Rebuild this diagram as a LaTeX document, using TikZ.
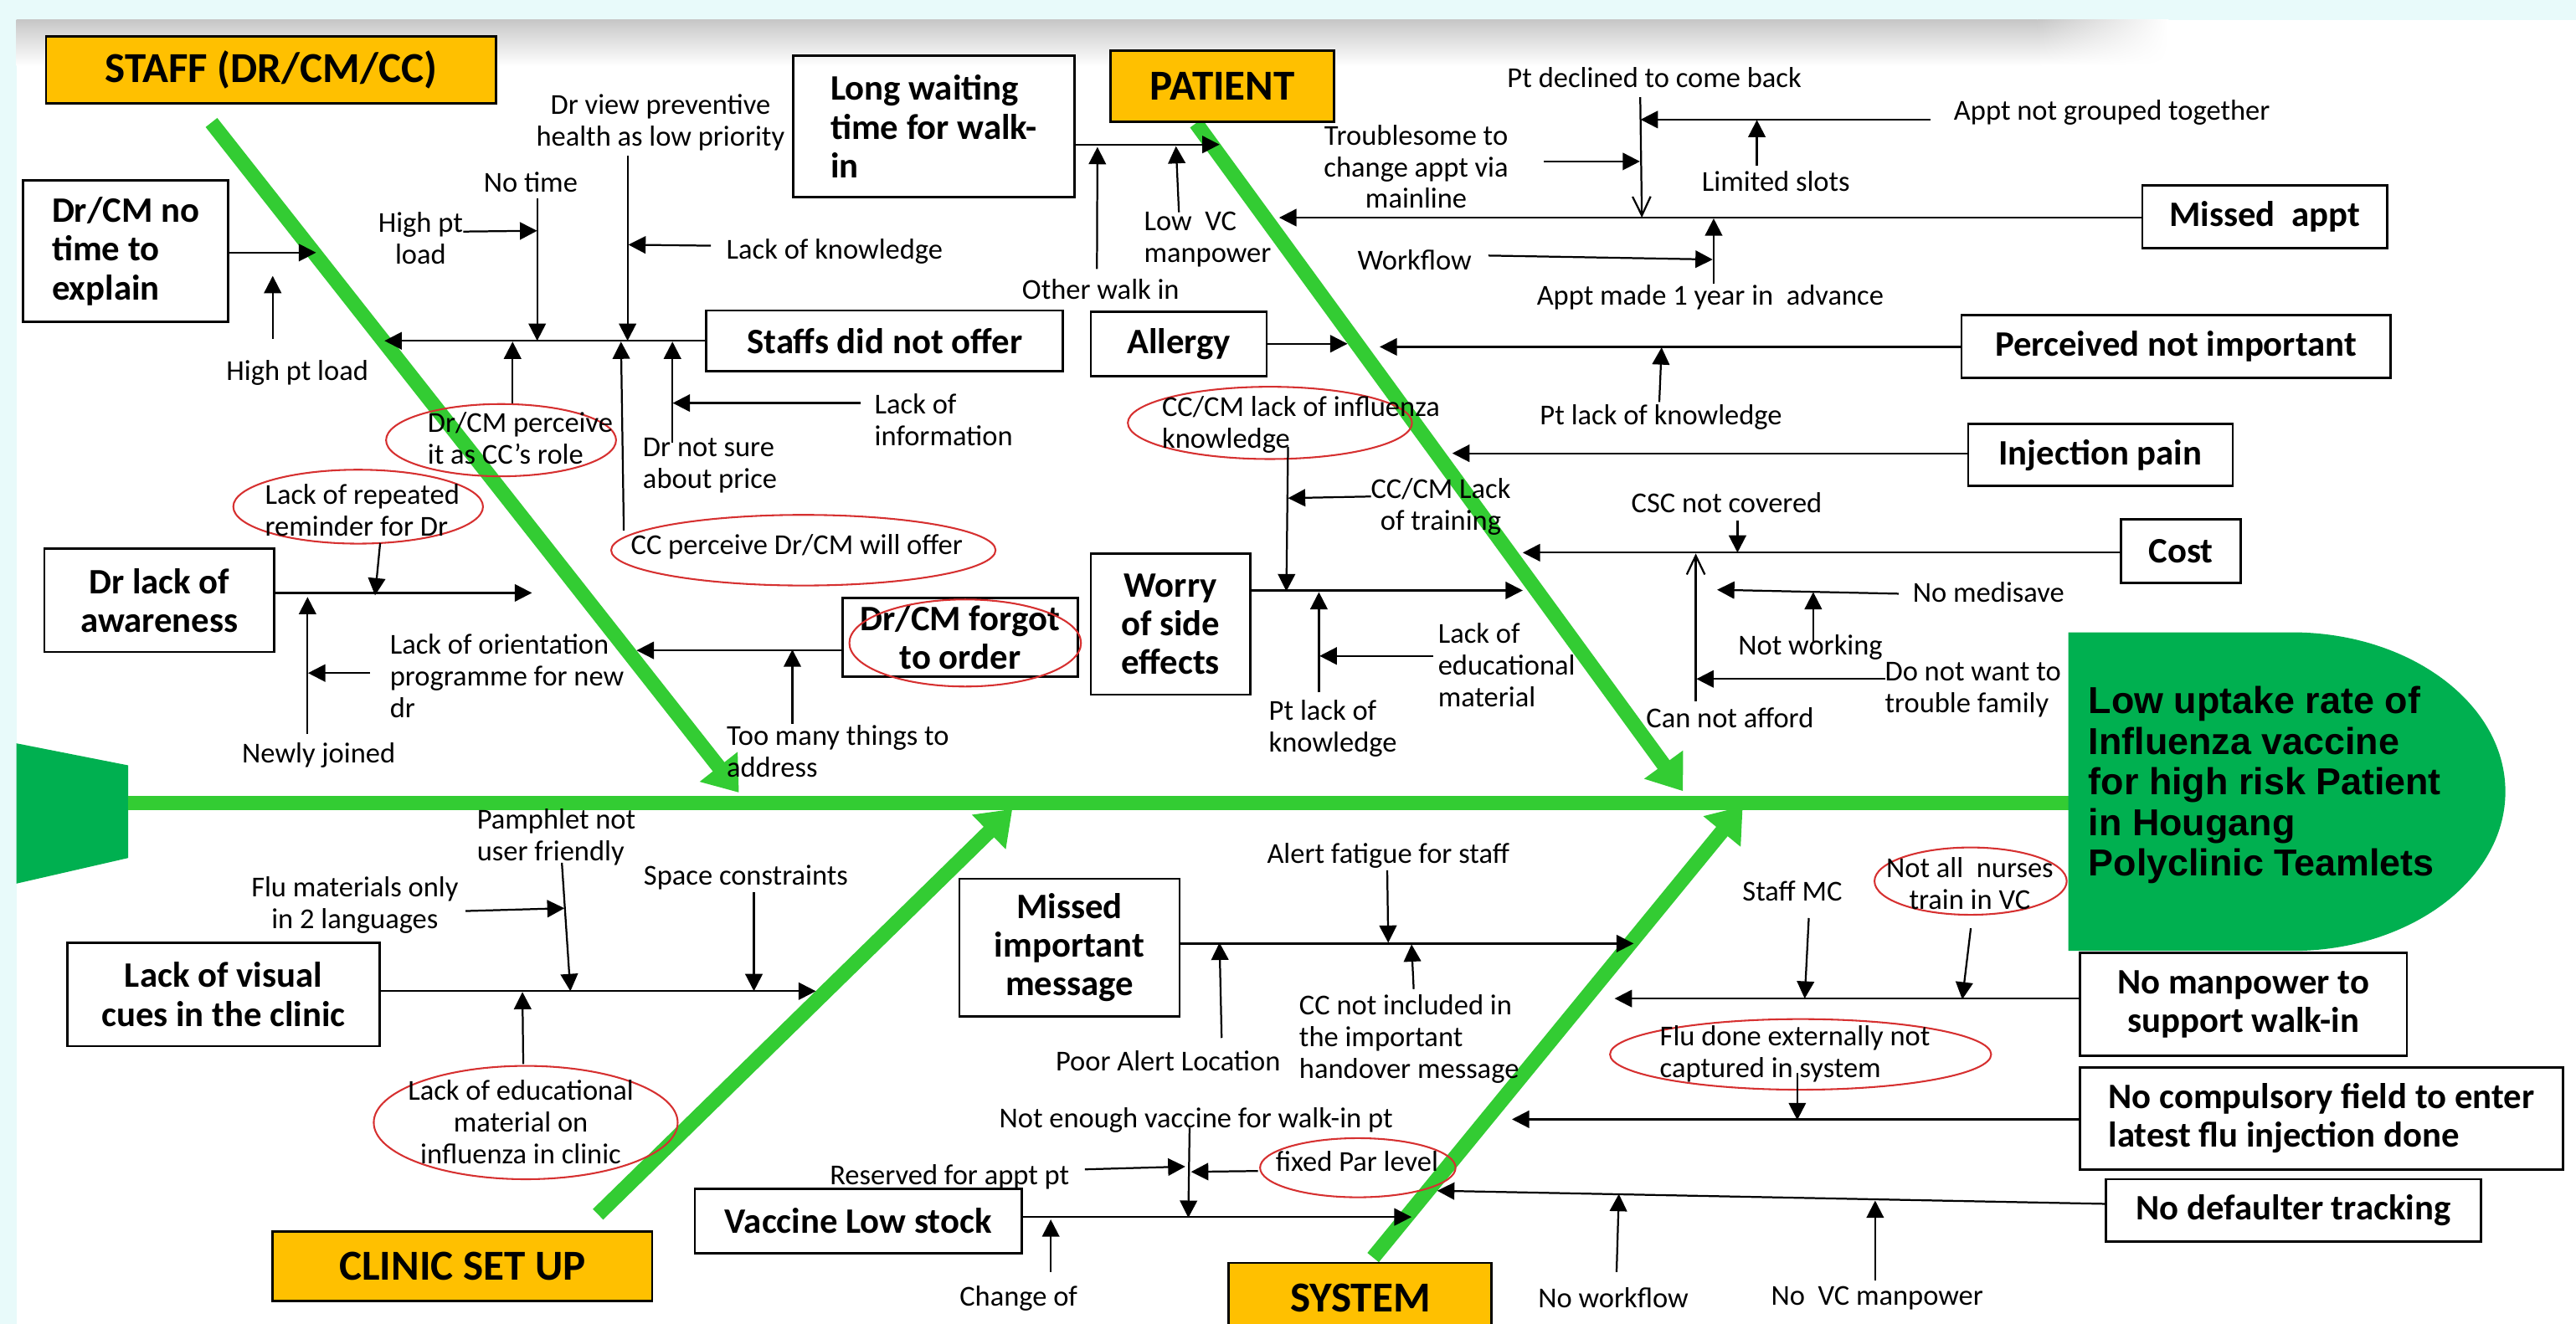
\documentclass[tikz,border=0pt]{standalone}
\usepackage{fontspec}
\setmainfont{Carlito}
\newfontfamily\headfont{Liberation Sans}
\usetikzlibrary{arrows.meta}
\usetikzlibrary{shapes.geometric}
\usetikzlibrary{shadings}
\definecolor{bonegreen}{RGB}{51,204,51}
\definecolor{headgreen}{RGB}{0,176,80}
\definecolor{catorange}{RGB}{255,192,0}
\definecolor{ringred}{RGB}{214,48,48}
\definecolor{edgecyan}{RGB}{232,250,250}
\tikzset{catbox/.style = {draw, fill=catorange, line width=0.8pt, inner sep=0, font=\bfseries\fontsize{14.8}{16}\selectfont}}
\tikzset{causebox/.style = {draw, line width=0.8pt, inner sep=0, align=center, font=\bfseries\fontsize{12.4}{13.4}\selectfont}}
\tikzset{lbl/.style = {inner sep=0, align=center, font=\fontsize{10}{11}\selectfont}}
\tikzset{redring/.style = {ellipse, draw=ringred, line width=0.6pt, inner sep=0}}
\tikzset{arr/.style = {line width=0.65pt, -{Triangle[length=2.1mm, width=2.1mm]}}}
\tikzset{openarr/.style = {line width=0.65pt, -{Straight Barb[length=2.3mm, width=2.2mm]}}}
\tikzset{bone/.style = {draw=bonegreen, line width=1.8mm, -{Triangle[length=4mm, width=5.6mm]}}}

\begin{document}
\begin{tikzpicture}[x=0.2mm, y=-0.2mm]
  \useasboundingbox (0,0) rectangle (1568,806);
  \fill[edgecyan] (0,0) rectangle (1568,12);
  \fill[edgecyan] (0,0) rectangle (10,806);
  \shade[top color=black!22, bottom color=white] (10,12) rectangle (1240,40);
  \shade[upper left=black!22, upper right=white, lower left=white, lower right=white] (1240,12) rectangle (1320,40);

  % spine and head
  \coordinate (tailend) at (78,489);
  \coordinate (headend) at (1262,489);
  \fill[headgreen] (10,452.6) -- (78,466) -- (78,522.4) -- (10,538) -- cycle;
  \draw[bonegreen, line width=1.8mm] (tailend) -- (headend);
  \fill[headgreen] (1259,385) -- (1395,385) arc[start angle=90, end angle=-90, x radius=26mm, y radius=19.4mm] -- (1259,579) -- cycle;
  \node[anchor=west, inner sep=0, align=left, font=\headfont\bfseries\fontsize{13}{14.1}\selectfont] (problem) at (1271,478)
    {Low uptake rate of\\Influenza vaccine\\for high risk Patient\\in Hougang\\Polyclinic Teamlets};

  % bones
  \coordinate (staffroot) at (128.7,74.6);
  \coordinate (staffhit) at (449.8,482.6);
  \coordinate (patroot) at (728,75);
  \coordinate (pathit) at (1024.4,481.7);
  \coordinate (clinroot) at (364,739.4);
  \coordinate (clinhit) at (616.2,492.6);
  \coordinate (sysroot) at (835.8,765.7);
  \coordinate (syshit) at (1060.8,490.8);
  \draw[bone] (staffroot) -- (staffhit);
  \draw[bone] (patroot) -- (pathit);
  \draw[bone] (clinroot) -- (clinhit);
  \draw[bone] (sysroot) -- (syshit);

  % categories
  \node[catbox, minimum width=54.8mm, minimum height=8.2mm] (staff) at (165,42.5) {STAFF (DR/CM/CC)};
  \node[catbox, minimum width=27.2mm, minimum height=8.6mm] (patient) at (744,52.5) {PATIENT};
  \node[catbox, minimum width=46.2mm, minimum height=8.4mm] (clinic) at (281.5,771) {CLINIC SET UP};
  \node[catbox, minimum width=32mm, minimum height=8.6mm] (system) at (828,790.5) {SYSTEM};

  % cause boxes
  \node[causebox, align=left, minimum width=25mm, minimum height=17.2mm] (noexplain) at (76.5,153) {Dr/CM no\\time to\\explain};
  \node[causebox, align=left, minimum width=34.2mm, minimum height=17.2mm] (longwait) at (568.5,77) {Long waiting\\time for walk-\\in};
  \node[causebox, minimum width=43.4mm, minimum height=7.4mm] (staffoffer) at (538.5,207.5) {Staffs did not offer};
  \node[causebox, minimum width=21.4mm, minimum height=7.8mm] (allergy) at (717.5,209.5) {Allergy};
  \node[causebox, minimum width=29.8mm, minimum height=7.6mm] (missappt) at (1378.5,132) {Missed~ appt};
  \node[causebox, minimum width=52.2mm, minimum height=7.6mm] (notimport) at (1324.5,211) {Perceived not important};
  \node[causebox, minimum width=32.2mm, minimum height=7.6mm] (injpain) at (1278.5,277) {Injection pain};
  \node[causebox, minimum width=14.6mm, minimum height=7.8mm] (cost) at (1327.5,335.5) {Cost};
  \node[causebox, minimum width=28mm, minimum height=12.6mm] (awareness) at (97,365.5) {Dr lack of\\awareness};
  \node[causebox, minimum width=28.6mm, minimum height=9.6mm] (forgot) at (584.5,388) {Dr/CM forgot\\to order};
  \node[causebox, minimum width=19.4mm, minimum height=17.2mm] (worry) at (712.5,380) {Worry\\of side\\effects};
  \node[causebox, minimum width=38mm, minimum height=12.6mm] (visual) at (136,605.5) {Lack of visual\\cues in the clinic};
  \node[causebox, minimum width=26.8mm, minimum height=16.8mm] (missmsg) at (651,577) {Missed\\important\\message};
  \node[causebox, minimum width=39.8mm, minimum height=12.6mm] (walkin) at (1365.5,611.5) {No manpower to\\support walk-in};
  \node[causebox, align=left, minimum width=58.8mm, minimum height=12.4mm] (compfield) at (1413,681) {No compulsory field to enter\\latest flu injection done};
  \node[causebox, minimum width=45.6mm, minimum height=7.6mm] (defaulter) at (1396,737) {No defaulter tracking};
  \node[causebox, minimum width=39.8mm, minimum height=7.8mm] (lowstock) at (522.5,743.5) {Vaccine Low stock};

  % red rings
  \node[redring, minimum width=28mm, minimum height=8.8mm] (perceivering) at (305,268) {};
  \node[redring, minimum width=46.8mm, minimum height=8.6mm] (offerring) at (489,335) {};
  \node[redring, minimum width=30.4mm, minimum height=9mm] (reminderring) at (218,308.5) {};
  \node[redring, minimum width=28.2mm, minimum height=10.6mm] (forgotring) at (587.5,391.5) {};
  \node[redring, minimum width=34.6mm, minimum height=8.8mm] (influring) at (773,257.5) {};
  \node[redring, minimum width=37mm, minimum height=13.8mm] (eduring) at (320,683.5) {};
  \node[redring, minimum width=23.4mm, minimum height=8.2mm] (nursering) at (1199.5,536.5) {};
  \node[redring, minimum width=46.4mm, minimum height=8.6mm] (externring) at (1096,642) {};
  \node[redring, minimum width=23.8mm, minimum height=7.2mm] (parring) at (826.5,711) {};

  % staff labels
  \node[lbl] (hpl1) at (181,227) {High pt load};
  \node[lbl] (hpl2) at (256,145) {High pt\\load};
  \node[lbl] (notime) at (323,111) {No time};
  \node[lbl] (lowprio) at (402,74.5) {Dr view preventive\\health as low priority};
  \node[lbl] (lackknow) at (508,153) {Lack of knowledge};
  \node[lbl, anchor=west, align=left] (lackinfo) at (532,255.5) {Lack of\\information};
  \node[lbl, anchor=west, align=left] (price) at (391,283.5) {Dr not sure\\about price};
  \node[lbl, anchor=west, align=left] (perceive) at (260,267) {Dr/CM perceive\\it as CC’s role};
  \node[lbl] (offer) at (485,333) {CC perceive Dr/CM will offer};
  \node[lbl, anchor=west, align=left] (reminder) at (161,310.5) {Lack of repeated\\reminder for Dr};
  \node[lbl] (newly) at (194,460) {Newly joined};
  \node[lbl, anchor=west, align=left] (orient) at (237,411.5) {Lack of orientation\\programme for new\\dr};
  \node[lbl, anchor=west, align=left] (toomany) at (442,457.5) {Too many things to\\address};

  % patient labels
  \node[lbl] (otherwalk) at (670,176) {Other walk in};
  \node[lbl, anchor=west, align=left] (lowvc) at (696,146) {Low~ VC\\manpower};
  \node[lbl] (declined) at (1007,47.4) {Pt declined to come back};
  \node[lbl, anchor=west] (grouped) at (1189,68.3) {Appt not grouped together};
  \node[lbl] (slots) at (1081,110.5) {Limited slots};
  \node[lbl] (trouble) at (862,101.5) {Troublesome to\\change appt via\\mainline};
  \node[lbl] (workflow) at (861,158.4) {Workflow};
  \node[lbl] (advance) at (1041,181) {Appt made 1 year in~ advance};
  \node[lbl] (ptknow) at (1011,254) {Pt lack of knowledge};
  \node[lbl, anchor=west, align=left] (influ) at (707,258.5) {CC/CM lack of influenza\\knowledge};
  \node[lbl] (training) at (877,308.5) {CC/CM Lack\\of training};
  \node[lbl, anchor=west, align=left] (edumiss) at (875,405) {Lack of\\educational\\material};
  \node[lbl, anchor=west, align=left] (ptknow2) at (772,443.5) {Pt lack of\\knowledge};
  \node[lbl] (csc) at (1051,306) {CSC not covered};
  \node[lbl] (afford) at (1053,437) {Can not afford};
  \node[lbl, anchor=west] (medisave) at (1164,360.6) {No medisave};
  \node[lbl] (notwork) at (1102,394) {Not working};
  \node[lbl, anchor=west, align=left] (family) at (1147,420) {Do not want to\\trouble family};

  % clinic labels
  \node[lbl, anchor=west, align=left] (pamphlet) at (290,509.5) {Pamphlet not\\user friendly};
  \node[lbl] (languages) at (216,551) {Flu materials only\\in 2 languages};
  \node[lbl] (space) at (454,534.5) {Space constraints};
  \node[lbl] (edumat) at (317,683) {Lack of educational\\material on\\influenza in clinic};

  % system labels
  \node[lbl] (fatigue) at (845,521) {Alert fatigue for staff};
  \node[lbl] (alertloc) at (711,646) {Poor Alert Location};
  \node[lbl, anchor=west, align=left] (handover) at (790.5,632.5) {CC not included in\\the important\\handover message};
  \node[lbl] (staffmc) at (1091,542.5) {Staff MC};
  \node[lbl] (nurses) at (1199,538) {Not all~ nurses\\train in VC};
  \node[lbl, anchor=west, align=left] (extern) at (1010,641.5) {Flu done externally not\\captured in system};
  \node[lbl] (notenough) at (728,682) {Not enough vaccine for walk-in pt};
  \node[lbl] (reserved) at (578,716.5) {Reserved for appt pt};
  \node[lbl] (parlevel) at (826,707) {fixed Par level};
  \node[lbl] (change) at (620,790.4) {Change of};
  \node[lbl] (noflow) at (982,790.4) {No workflow};
  \node[lbl] (novc) at (1142.6,790.4) {No~ VC manpower};

  % branch tips on the bones
  \foreach \n/\x/\y in {noexplaintip/192.4/153.8, staffoffertip/234/207.5, awaretip/323.8/361,
      forgottip/387.5/396, longwaittip/742.3/88, missappttip/778.6/132.5, allergytip/820.2/209.3,
      notimporttip/839.8/211.2, injpaintip/884/276, worrytip/926.9/359.5, costtip/926.9/336.5,
      visualtip/496.6/603.5, missmsgtip/994.4/574.5, walkintip/982.8/608, comptip/920.3/681.5,
      deftip/874.8/725, lowstocktip/859.2/741}
    \coordinate (\n) at (\x,\y);
  \draw[arr] (noexplain.east |- noexplaintip) -- (noexplaintip);
  \draw[arr] (staffoffer.west |- staffoffertip) -- (staffoffertip);
  \draw[arr] (awareness.east |- awaretip) -- (awaretip);
  \draw[arr] (forgot.west |- forgottip) -- (forgottip);
  \draw[arr] (longwait.east |- longwaittip) -- (longwaittip);
  \draw[arr] (missappt.west |- missappttip) -- (missappttip);
  \draw[arr] (allergy.east |- allergytip) -- (allergytip);
  \draw[arr] (notimport.west |- notimporttip) -- (notimporttip);
  \draw[arr] (injpain.west |- injpaintip) -- (injpaintip);
  \draw[arr] (worry.east |- worrytip) -- (worrytip);
  \draw[arr] (cost.west |- costtip) -- (costtip);
  \draw[arr] (visual.east |- visualtip) -- (visualtip);
  \draw[arr] (missmsg.east |- missmsgtip) -- (missmsgtip);
  \draw[arr] (walkin.west |- walkintip) -- (walkintip);
  \draw[arr] (compfield.west |- comptip) -- (comptip);
  \draw[arr] ([yshift=0.8mm]defaulter.west) -- (deftip);
  \draw[arr] (lowstock.east |- lowstocktip) -- (lowstocktip);

  % sub-cause arrows
  \foreach \n/\xa/\ya/\xb/\yb in {a1/166/206.5/166/168, a2/282/141/327/140.5, a3/327/121/327/207.5,
      a4/382/94.7/382/207.5, a5/432.7/149.6/382.5/149, a6/312/245.8/312/208, a7/379.7/323/378/208,
      a8/409.3/269.4/409.3/208, a9/524/245.4/409.5/245.4, a10/231.4/330.6/228.3/362.5,
      a11/187.2/447/187.2/363.5, a12/225/409.8/187.5/409.8, a13/482.3/440.7/482.3/395.5,
      b1/667.7/163.8/668/89.5, b2/717.6/129.2/715.8/89, b3/998.4/59.2/999.4/132.5,
      b4/1175/72.8/998.6/72.8, b5/1069.4/101/1069.4/73, b6/939.9/98.3/998.2/98.3,
      b7/906/155.6/1042.5/158, b8/1043.1/172.9/1043.1/133, b9/1010/244.8/1011.4/211.5,
      b10/784/272/783/360, b11/834.5/302.3/784/303.3, b12/802.8/421.6/802.8/360.5,
      b13/872.2/399.4/803.2/399.4, b14/1057.6/316.9/1057.6/336.5, b15/1032.2/427/1032.2/337,
      b16/1155.7/361.5/1045.2/359.1, b17/1103.7/390.6/1103.7/360.5, b18/1147.8/413.4/1032.6/413.4,
      c1/342/525.3/347.2/603.5, c2/283.4/554.7/343.6/553, c3/458.9/543/458.9/603.5, c4/318.5/647.9/318/604,
      d1/743.6/632/742.3/574, d2/844.4/529.9/845/574, d3/860.5/602.2/859.2/575,
      d4/1101/559/1098.5/608, d5/1199.6/565.2/1194.4/608.5, d6/1094/653.2/1094/682,
      d7/984/774.5/985.4/727, d8/1141.4/779.8/1141.4/731, d9/639.6/774.5/639.6/742.5,
      d10/724.1/686.6/723.3/741.5, d11/660.4/712/721.5/710.3, d12/765.7/713/725/713.5}
    {\coordinate (\n-s) at (\xa,\ya); \coordinate (\n-e) at (\xb,\yb);}
  \foreach \n in {a1,a2,a3,a4,a5,a6,a7,a8,a9,a10,a11,a12,a13,b1,b2,b4,b5,b6,b7,b8,b9,b10,b11,b12,b13,b14,
      b16,b17,b18,c1,c2,c3,c4,d1,d2,d3,d4,d5,d6,d7,d8,d9,d10,d11,d12}
    \draw[arr] (\n-s) -- (\n-e);
  \draw[openarr] (b3-s) -- (b3-e);
  \draw[openarr] (b15-s) -- (b15-e);
\end{tikzpicture}
\end{document}
